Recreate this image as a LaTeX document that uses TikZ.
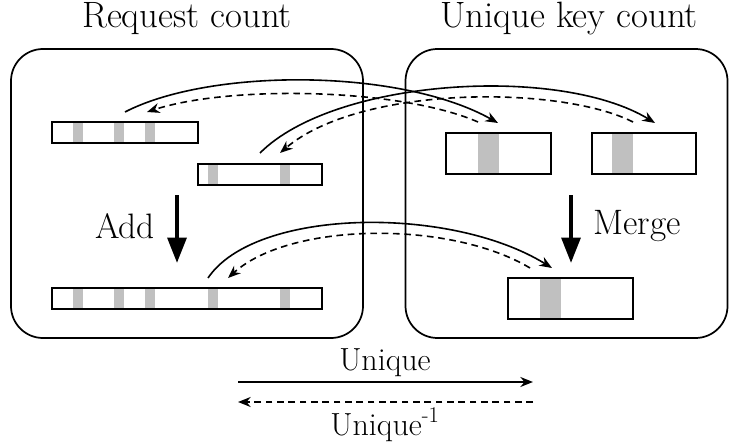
\documentclass[tikz,border=0pt]{standalone}
\usetikzlibrary{arrows.meta}
\definecolor{stripegray}{RGB}{192,192,192}
\begin{document}
\begin{tikzpicture}[x=0.75pt,y=-0.75pt,
  every node/.style={font=\fontsize{26.5}{30}\selectfont},
  titlefont/.style={font=\fontsize{27.5}{32}\selectfont},
  legendfont/.style={font=\fontsize{24}{28}\selectfont},
  panel/.style={draw, line width=1.3pt, rounded corners=24pt, inner sep=0pt, outer sep=0pt, minimum height=216.75pt},
  bar/.style={draw, line width=1.2pt, inner sep=0pt, outer sep=0pt, minimum height=15.5pt},
  keybox/.style={draw, line width=1.2pt, inner sep=0pt, outer sep=0pt, minimum height=30.75pt},
  stripe/.style={fill=stripegray},
  fwd/.style={line width=1.2pt, -{Stealth[length=9.5pt,width=7.5pt]}},
  bwd/.style={line width=1.2pt, dashed, dash pattern=on 5pt off 3.5pt, -{Stealth[length=9.5pt,width=7.5pt]}},
  bigarrow/.style={line width=3pt, -{Triangle[length=19pt,width=14pt]}},
  lbl/.style={inner sep=0pt, anchor=base}
]
\useasboundingbox (0,0) rectangle (730,445);

% titles
\node[lbl, titlefont] (t1) at (187,28) {Request count};
\node[lbl, titlefont] (t2) at (569,28) {Unique key count};

% panels
\node[panel, minimum width=264pt] (p1) at (187,193.5) {};
\node[panel, minimum width=241.5pt] (p2) at (566.5,193.5) {};

% stripes
\foreach \a in {73,114,145} \fill[stripe] (\a,122) rectangle (\a+10,143);
\foreach \a in {208,280} \fill[stripe] (\a,164) rectangle (\a+10,185);
\foreach \a in {73,114,145,208,280} \fill[stripe] (\a,288) rectangle (\a+10,309);
\fill[stripe] (478,133) rectangle (499,174);
\fill[stripe] (612,133) rectangle (633,174);
\fill[stripe] (540,278) rectangle (561,319);

% bars
\node[bar, minimum width=109.5pt] (b1) at (125,132.5) {};
\node[bar, minimum width=93pt] (b2) at (260,174.5) {};
\node[bar, minimum width=202.5pt] (b3) at (187,298.5) {};

% key boxes
\node[keybox, minimum width=78.75pt] (k1) at (498.5,153.5) {};
\node[keybox, minimum width=78pt] (k2) at (644,153.5) {};
\node[keybox, minimum width=93.75pt] (k3) at (570.5,298.5) {};

% curve end points
\coordinate (s1) at (125,112);
\coordinate (d1) at (147,112);
\coordinate (e1) at (498,123);
\coordinate (f1) at (478,122);
\coordinate (s2) at (260,153);
\coordinate (d2) at (280,153);
\coordinate (e2) at (655,123);
\coordinate (f2) at (633,122);
\coordinate (s3) at (208,278);
\coordinate (d3) at (228,278);
\coordinate (e3) at (552,268);
\coordinate (f3) at (530,268);

% curves
\draw[fwd] (s1) .. controls (210,68) and (400,68) .. (e1);
\draw[bwd] (f1) .. controls (400,88) and (230,85) .. (d1);
\draw[fwd] (s2) .. controls (335,78) and (560,65) .. (e2);
\draw[bwd] (f2) .. controls (560,85) and (360,85) .. (d2);
\draw[fwd] (s3) .. controls (255,208) and (450,205) .. (e3);
\draw[bwd] (f3) .. controls (450,220) and (290,222) .. (d3);

% Add / Merge
\coordinate (a1) at (177,195);
\coordinate (a2) at (177,263);
\draw[bigarrow] (a1) -- (a2);
\node (add) at (125,226) {Add};
\coordinate (m1) at (571,195);
\coordinate (m2) at (571,263);
\draw[bigarrow] (m1) -- (m2);
\node (merge) at (637,226) {Merge};

% legend
\coordinate (l1) at (238,382);
\coordinate (l2) at (533,382);
\coordinate (l3) at (533,402);
\coordinate (l4) at (238,402);
\draw[fwd] (l1) -- (l2);
\draw[bwd] (l3) -- (l4);
\node[lbl, legendfont] (u1) at (385,370) {Unique};
\node[lbl, legendfont] (u2) at (385,435) {Unique\textsuperscript{-1}};
\end{tikzpicture}
\end{document}
